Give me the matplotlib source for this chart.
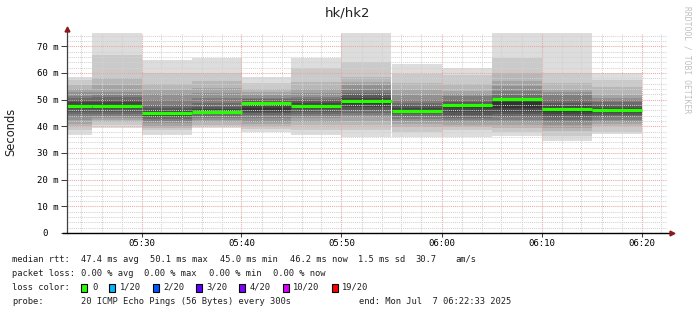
import matplotlib
matplotlib.use("Agg")
import matplotlib.pyplot as plt
import matplotlib.dates as mdates
import matplotlib.ticker as mticker
from matplotlib.patches import Rectangle
import numpy as np
import pandas as pd

# 5-minute intervals (start times), 20 sorted ping rtts per interval (ms)
starts = ["05:20", "05:25", "05:30", "05:35", "05:40", "05:45",
          "05:50", "05:55", "06:00", "06:05", "06:10", "06:15"]
pings = [
    [36.7, 38.5, 40.0, 41.0, 42.5, 43.5, 44.5, 45.5, 46.5, 47.3, 48.0, 49.0, 50.0, 50.5, 51.5, 53.0, 54.0, 55.5, 57.4, 58.5],
    [39.3, 40.5, 41.6, 42.5, 43.2, 44.0, 44.8, 45.5, 46.5, 47.3, 48.0, 49.0, 49.9, 51.0, 51.7, 53.0, 55.5, 58.0, 66.7, 75.0],
    [36.7, 38.5, 39.4, 40.2, 41.2, 42.0, 42.6, 43.4, 44.0, 44.6, 45.2, 46.0, 47.0, 48.1, 50.0, 52.0, 53.8, 56.0, 60.0, 65.0],
    [39.2, 40.0, 40.6, 41.5, 42.5, 43.3, 44.0, 44.5, 45.0, 45.4, 45.8, 46.5, 47.2, 48.7, 50.6, 52.5, 54.4, 57.0, 60.0, 65.5],
    [38.0, 39.0, 40.0, 41.0, 41.7, 43.0, 44.2, 45.0, 45.5, 46.2, 47.0, 48.6, 49.5, 50.2, 50.6, 51.7, 53.0, 53.9, 56.1, 58.4],
    [36.7, 38.5, 40.5, 41.5, 43.0, 43.8, 44.5, 45.5, 46.5, 47.2, 48.0, 48.8, 49.5, 50.3, 51.1, 52.5, 53.9, 56.7, 61.8, 65.5],
    [36.1, 38.5, 40.5, 42.0, 43.5, 44.2, 44.9, 46.0, 47.4, 48.5, 49.8, 50.5, 51.7, 52.5, 53.6, 55.5, 56.7, 58.6, 64.0, 75.0],
    [36.1, 38.0, 39.9, 41.0, 42.0, 42.8, 43.7, 44.5, 45.2, 45.7, 46.2, 47.0, 48.0, 48.7, 50.0, 51.9, 53.8, 56.2, 59.5, 63.5],
    [36.1, 38.5, 39.9, 40.6, 41.7, 42.5, 43.2, 44.2, 45.5, 46.8, 47.8, 48.5, 49.3, 50.0, 51.2, 52.3, 53.1, 56.0, 59.4, 61.9],
    [36.5, 38.0, 39.5, 40.6, 41.5, 42.5, 43.5, 44.5, 45.5, 46.9, 49.0, 50.0, 50.8, 51.9, 53.1, 55.0, 56.9, 60.0, 65.6, 75.0],
    [34.6, 36.2, 38.1, 39.5, 40.6, 41.5, 42.5, 43.6, 44.5, 45.5, 46.5, 47.5, 48.8, 50.0, 51.9, 53.0, 53.8, 56.2, 60.0, 75.0],
    [37.0, 38.0, 40.0, 41.0, 41.7, 42.5, 43.5, 44.3, 45.0, 45.6, 46.3, 47.0, 48.0, 49.0, 50.0, 50.6, 51.9, 54.9, 57.5, 60.0],
]
median = [47.7, 47.6, 45.0, 45.2, 48.6, 47.6, 49.5, 45.9, 48.0, 50.1, 46.6, 46.2]

y_ticks = [0, 10, 20, 30, 40, 50, 60, 70]
y_labels = ["0  ", "10 m", "20 m", "30 m", "40 m", "50 m", "60 m", "70 m"]

loss_labels = ["0", "1/20", "2/20", "3/20", "4/20", "10/20", "19/20"]
loss_colors = ["#26ff00", "#00b8ff", "#0059ff", "#5e00ff", "#7e00ff", "#dd00ff", "#ff0000"]

t_start = pd.Timestamp("2025-07-07 05:22:33")
t_end = pd.Timestamp("2025-07-07 06:22:33")

mono = "DejaVu Sans Mono"

fig = plt.figure(figsize=(6.97, 3.15), dpi=100)
ax = fig.add_axes([67 / 697, 82 / 315, 600 / 697, 200 / 315])

x0 = mdates.date2num(pd.to_datetime(["2025-07-07 " + s for s in starts]))
w = 5 / 1440
P = np.array(pings)

# smoke: outer pairs light, inner pairs dark
half = 10
for ii in range(1, half + 1):
    g = int(190 / half * (half - ii)) + 50
    lo = P[:, ii - 1]
    hi = P[:, 20 - ii]
    ax.bar(x0, hi - lo, bottom=lo, width=w, align="edge",
           color=(g / 255, g / 255, g / 255), linewidth=0, zorder=1)

ax.hlines(median, x0, x0 + w, colors="#26ff00", linewidth=2.3, zorder=4)

ax.set_xlim(mdates.date2num(t_start), mdates.date2num(t_end))
ax.set_ylim(0, 75)

ax.xaxis.set_major_locator(mdates.MinuteLocator(byminute=range(0, 60, 10)))
ax.xaxis.set_minor_locator(mdates.MinuteLocator(byminute=range(0, 60, 2)))
ax.xaxis.set_major_formatter(mdates.DateFormatter("%H:%M"))
ax.set_yticks(y_ticks)
ax.set_yticklabels(y_labels)
ax.yaxis.set_minor_locator(mticker.MultipleLocator(2))

ax.set_axisbelow(False)
ax.grid(which="minor", color="#d2d2d2", linestyle=(0, (1, 1)), linewidth=0.75, zorder=2)
ax.grid(which="major", color="#eaa6a6", linestyle=(0, (1, 1)), linewidth=0.75, zorder=3)

for s in ax.spines.values():
    s.set_visible(False)
ax.tick_params(axis="both", which="minor", length=0)
ax.tick_params(axis="y", which="major", length=4, width=0.75, color="#404040",
               labelsize=6.5, pad=2)
ax.tick_params(axis="x", which="major", length=3, width=0.75, color="#404040",
               labelsize=6.5, pad=1)
for lab in ax.get_xticklabels() + ax.get_yticklabels():
    lab.set_fontfamily(mono)

# axes with arrows
ax.plot([0, 0], [0, 1.02], transform=ax.transAxes, color="#404040",
        linewidth=0.9, clip_on=False, zorder=5)
ax.plot([0], [1.02], transform=ax.transAxes, marker="^", color="#8b1a1a",
        markersize=3.5, clip_on=False, zorder=6)
ax.plot([-0.007, 1.008], [0, 0], transform=ax.transAxes, color="black",
        linewidth=1.0, clip_on=False, zorder=5)
ax.plot([1.008], [0], transform=ax.transAxes, marker=">", color="#8b1a1a",
        markersize=3.5, clip_on=False, zorder=6)

fig.text(348 / 697, 1 - 13 / 315, "hk/hk2", ha="center", va="center",
         fontsize=9.5, color="#202020")
fig.text(11 / 697, 1 - 132 / 315, "Seconds", rotation=90, ha="center",
         va="center", fontsize=8.3, color="#202020")
fig.text(687 / 697, 1 - 60 / 315, "RRDTOOL / TOBI OETIKER", rotation=270,
         ha="center", va="center", fontsize=5.8, color="#c0c0c0",
         fontfamily=mono)


def ftext(x, y, s):
    fig.text(x / 697, 1 - y / 315, s, ha="left", va="center",
             fontsize=6.3, fontfamily=mono, color="#202020")


# legend lines
ftext(12, 259.5, "median rtt:")
for x, s in zip([80.7, 150, 220, 290, 358.3, 415, 455],
                ["47.4 ms avg", "50.1 ms max", "45.0 ms min", "46.2 ms now",
                 "1.5 ms sd", "30.7", "am/s"]):
    ftext(x, 259.5, s)

ftext(12, 273, "packet loss:")
for x, s in zip([80.7, 144.3, 209, 273.3],
                ["0.00 % avg", "0.00 % max", "0.00 % min", "0.00 % now"]):
    ftext(x, 273, s)

ftext(12, 287.3, "loss color:")
box_x = [81.3, 109.3, 152.7, 196, 239.3, 282.7, 331.7]
for bx, lab, col in zip(box_x, loss_labels, loss_colors):
    fig.patches.append(Rectangle((bx / 697, 1 - 291.5 / 315), 6 / 697, 8 / 315,
                                 transform=fig.transFigure, facecolor=col,
                                 edgecolor="black", linewidth=0.8))
    ftext(bx + 10.7, 287.3, lab)

ftext(12, 301, "probe:")
ftext(80.7, 301, "20 ICMP Echo Pings (56 Bytes) every 300s")
ftext(359, 301, "end: Mon Jul  7 06:22:33 2025")

fig.savefig("out.png", dpi=100)
